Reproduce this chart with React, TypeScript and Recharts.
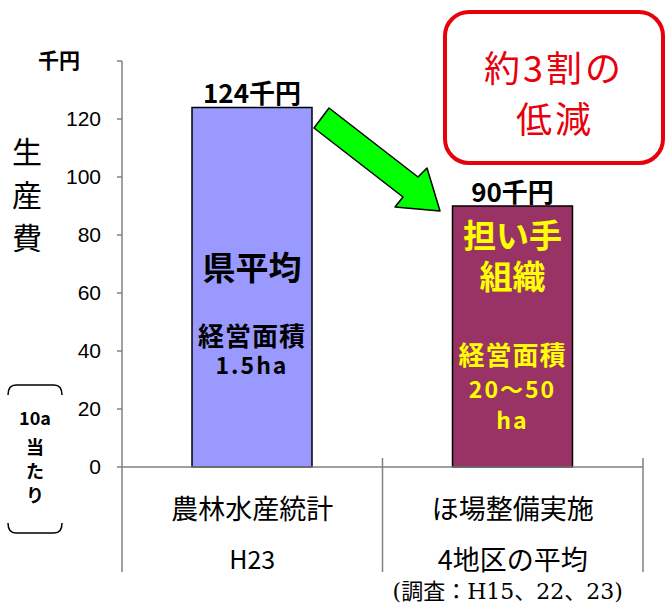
import React from "react";
import { BarChart, Bar, XAxis, YAxis, LabelList, Cell } from "recharts";

const categories = ["農林水産統計", "ほ場整備実施"];
const subLabels = ["H23", "4地区の平均"];
const notes = ["", "(調査：H15、22、23)"];
const costs = [124, 90];
const barNames = [["県平均"], ["担い手", "組織"]];
const areaLines = [["経営面積", "1.5ha"], ["経営面積", "20～50", "ha"]];
const yTicks = [0, 20, 40, 60, 80, 100, 120, 140];

const data = categories.map((c, i) => ({ name: c, value: costs[i] }));

const barColors = ["#9999ff", "#993366"];
const textColors = ["#000000", "#ffff00"];
const FONT = '"Noto Sans CJK JP", sans-serif';
const AXIS = "#808080";

// offsets (from bar top) of the lines written inside each bar
const nameOffsets = [[159], [28, 69]];
const areaOffsets = [[227, 257], [147, 182, 213]];

const CategoryTick = (props: any) => {
  const { x, y, payload, index } = props;
  const half = payload && payload.offset ? payload.offset : 130;
  const bottom = y + 105;
  return (
    <g>
      {index === 0 && (
        <line x1={x - half} y1={y} x2={x - half} y2={bottom} stroke={AXIS} strokeWidth={1.5} />
      )}
      <line x1={x + half} y1={y - 9} x2={x + half} y2={bottom} stroke={AXIS} strokeWidth={1.5} />
      <text x={x} y={y + 40} textAnchor="middle" dominantBaseline="central" fontSize={27} fontFamily={FONT} fill="#000">
        {payload.value}
      </text>
      <text x={x} y={y + 91} textAnchor="middle" dominantBaseline="central" fontSize={index === 0 ? 25 : 27} fontFamily={FONT} fill="#000">
        {subLabels[index]}
      </text>
      {notes[index] && (
        <text x={x - 5} y={y + 124} textAnchor="middle" dominantBaseline="central" fontSize={22} fontFamily={'"DejaVu Serif", "Noto Sans CJK JP", serif'} fill="#000">
          {notes[index]}
        </text>
      )}
    </g>
  );
};

const InsideText = (props: any) => {
  const { x, y, width, index } = props;
  const cx = x + width / 2;
  const fill = textColors[index];
  return (
    <g fontFamily={FONT} fontWeight="bold" fill={fill} textAnchor="middle">
      {barNames[index].map((t, k) => (
        <text key={"n" + k} x={cx} y={y + nameOffsets[index][k]} dominantBaseline="central" fontSize={33} fill={fill}>
          {t}
        </text>
      ))}
      {areaLines[index].map((t, k) => (
        <text
          key={"a" + k}
          x={cx}
          y={y + areaOffsets[index][k]}
          dominantBaseline="central"
          fontSize={k === 0 ? 26 : 23}
          letterSpacing={k === 0 ? 1 : 2}
          fill={fill}
        >
          {t}
        </text>
      ))}
    </g>
  );
};

const App = () => {
  return (
    <div style={{ position: "absolute", left: 0, top: 0, width: 666, height: 605, background: "#fff" }}>
      <BarChart
        width={666}
        height={605}
        data={data}
        margin={{ top: 61, right: 23, left: 62, bottom: 28 }}
      >
        <XAxis
          dataKey="name"
          height={110}
          interval={0}
          tickSize={0}
          tickMargin={0}
          tickLine={false}
          stroke={AXIS}
          strokeWidth={1.5}
          tick={<CategoryTick />}
        />
        <YAxis
          width={60}
          domain={[0, 140]}
          ticks={yTicks}
          interval={0}
          tickSize={5}
          tickMargin={16}
          stroke={AXIS}
          strokeWidth={1.5}
          tickFormatter={(v: number) => (v === 140 ? "" : String(v))}
          tick={{ fontSize: 21, fill: "#000", fontFamily: '"Liberation Sans", sans-serif' }}
        />
        <Bar dataKey="value" barSize={120} stroke="#000" strokeWidth={1.5} isAnimationActive={false}>
          {data.map((d, i) => (
            <Cell key={d.name} fill={barColors[i]} />
          ))}
          <LabelList
            dataKey="value"
            position="top"
            offset={4}
            formatter={(v: any) => `${v}千円`}
            style={{ fontSize: 26, fontWeight: "bold", fontFamily: FONT, fill: "#000" }}
          />
          <LabelList dataKey="value" content={<InsideText />} />
        </Bar>
      </BarChart>
      <svg
        width={666}
        height={605}
        style={{ position: "absolute", left: 0, top: 0, pointerEvents: "none" }}
      >
        <text x={59} y={59} textAnchor="middle" dominantBaseline="central" fontSize={21} fontWeight="bold" fontFamily={FONT}>
          千円
        </text>
        {["生", "産", "費"].map((c, k) => (
          <text key={c} x={27} y={150 + k * 43} textAnchor="middle" dominantBaseline="central" fontSize={30} fontFamily={FONT}>
            {c}
          </text>
        ))}
        <path d="M8,395 Q8,385 16,385 L54,385 Q62,385 62,395" fill="none" stroke="#000" strokeWidth={1.5} />
        <path d="M8,523 Q8,533 16,533 L54,533 Q62,533 62,523" fill="none" stroke="#000" strokeWidth={1.5} />
        {["10a", "当", "た", "り"].map((c, k) => (
          <text key={c} x={35} y={[417, 446, 470, 494][k]} textAnchor="middle" dominantBaseline="central" fontSize={18} fontWeight="bold" fontFamily={FONT}>
            {c}
          </text>
        ))}
        <polygon
          points="329,108 418,177 427,168 440,211 395,207 403,197 314,128"
          fill="#00ff00"
          stroke="#000"
          strokeWidth={1.5}
          strokeLinejoin="round"
        />
        <rect x={445} y={12} width={218} height={151} rx={24} fill="#fff" stroke="#e8000b" strokeWidth={4} />
        <text x={554} y={66} textAnchor="middle" dominantBaseline="central" fontSize={36} letterSpacing={3} fontFamily={FONT} fill="#e8000b">
          約3割の
        </text>
        <text x={555} y={117} textAnchor="middle" dominantBaseline="central" fontSize={36} letterSpacing={3} fontFamily={FONT} fill="#e8000b">
          低減
        </text>
      </svg>
    </div>
  );
};

export default App;
